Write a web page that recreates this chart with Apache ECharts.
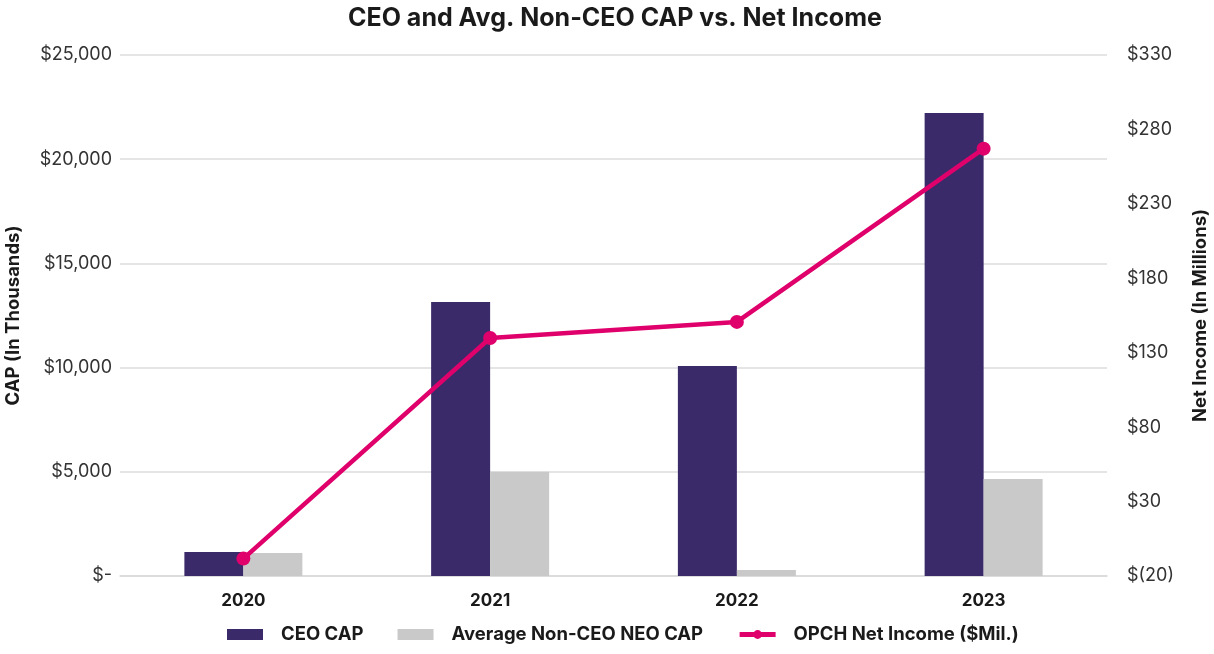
<!DOCTYPE html>
<html><head><meta charset="utf-8">
<script src="https://cdn.jsdelivr.net/npm/echarts@6/dist/echarts.min.js"></script>
<style>html,body{margin:0;padding:0;background:#fff}#c{width:1214px;height:654px}</style>
</head><body><div id="c"></div>
<script>
const categories = ['2020', '2021', '2022', '2023'];
const ceoCap = [1150, 13150, 10080, 22220];
const nonCeoCap = [1100, 5000, 290, 4650];
const netIncome = [-8.3, 139.9, 150.7, 267.1];
const leftTicks = [0, 5000, 10000, 15000, 20000, 25000];
const rightTicks = [-20, 30, 80, 130, 180, 230, 280, 330];

const font = 'Inter, "Noto Sans", sans-serif';
const chart = echarts.init(document.getElementById('c'));
function fmtLeft(v){ return v === 0 ? '$-' : '$' + v.toLocaleString('en-US'); }
function fmtRight(v){ return v < 0 ? '$(' + Math.abs(v) + ')' : '$' + v; }
chart.setOption({
  animation: false,
  title: { text: 'CEO and Avg. Non-CEO CAP vs. Net Income', left: 343, top: 1,
    textStyle: { fontFamily: font, fontSize: 25, fontWeight: 'bold', color: '#1a1a1a' } },
  legend: { bottom: 5, left: 222, itemWidth: 36, itemHeight: 11, itemGap: 34,
    textStyle: { fontFamily: font, fontSize: 18.5, fontWeight: 'bold', color: '#1a1a1a', padding: [0, 0, 0, 13] },
    data: [{name:'CEO CAP', icon:'rect'}, {name:'Average Non-CEO NEO CAP', icon:'rect'},
      {name:'OPCH Net Income ($Mil.)', lineStyle: { width: 5 }}] },
  grid: { left: 120, right: 107, top: 55, bottom: 78, containLabel: false, outerBoundsMode: 'none' },
  xAxis: { type: 'category', data: categories,
    axisLine: { lineStyle: { color: '#d9d9d9', width: 1.5 } }, axisTick: { show: false },
    axisLabel: { fontFamily: font, fontSize: 17, fontWeight: 'bold', color: '#1a1a1a', margin: 16 } },
  yAxis: [
    { type: 'value', min: leftTicks[0], max: leftTicks[leftTicks.length-1], interval: 5000,
      name: 'CAP (In Thousands)', nameLocation: 'middle', nameGap: 97, nameRotate: 90,
      nameTextStyle: { fontFamily: font, fontSize: 18.5, fontWeight: 'bold', color: '#1a1a1a' },
      axisLine: { show: false }, axisTick: { show: false },
      axisLabel: { formatter: fmtLeft, fontFamily: font, fontSize: 18, color: '#333', margin: 8 },
      splitLine: { lineStyle: { color: '#dcdcdc', width: 1.5 } } },
    { type: 'value', min: rightTicks[0], max: rightTicks[rightTicks.length-1], interval: 50,
      name: 'Net Income (In Millions)', nameLocation: 'middle', nameGap: 84, nameRotate: 90,
      nameTextStyle: { fontFamily: font, fontSize: 18.5, fontWeight: 'bold', color: '#1a1a1a' },
      axisLine: { show: false }, axisTick: { show: false },
      axisLabel: { formatter: fmtRight, fontFamily: font, fontSize: 18, color: '#333', margin: 20 },
      splitLine: { show: false } }
  ],
  series: [
    { name: 'CEO CAP', type: 'bar', data: ceoCap, barWidth: 59, barGap: '0%', itemStyle: { color: '#3b2a6a' } },
    { name: 'Average Non-CEO NEO CAP', type: 'bar', data: nonCeoCap, barWidth: 59, itemStyle: { color: '#c8c9c8' } },
    { name: 'OPCH Net Income ($Mil.)', type: 'line', yAxisIndex: 1, data: netIncome,
      symbol: 'circle', symbolSize: 14, lineStyle: { color: '#e0006b', width: 4.5 }, itemStyle: { color: '#e0006b' } }
  ]
});
</script></body></html>
